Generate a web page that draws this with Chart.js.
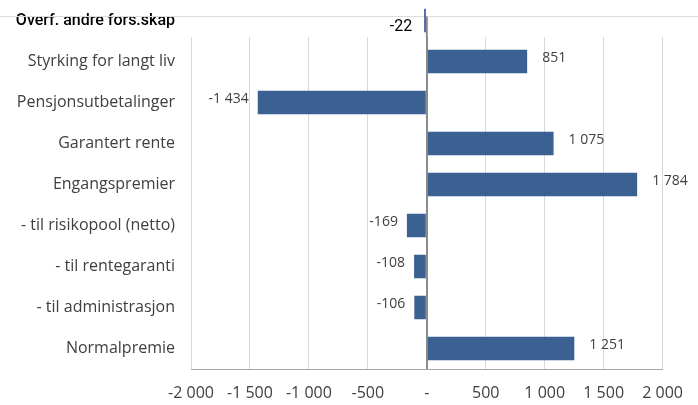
<!DOCTYPE html>
<html>
<head>
<meta charset="utf-8">
<script src="https://cdn.jsdelivr.net/npm/chart.js@4/dist/chart.umd.min.js"></script>
<style>
  html, body { margin: 0; padding: 0; background: #fff; }
  #wrap { position: relative; width: 698px; height: 405px; overflow: hidden; }
  canvas { display: block; }
</style>
</head>
<body>
<div id="wrap"><canvas id="c" width="698" height="405"></canvas></div>
<script>
// Poster (mill. kr), fra øverst til nederst
const categories = [
  'Overf. andre fors.skap',
  'Styrking for langt liv',
  'Pensjonsutbetalinger',
  'Garantert rente',
  'Engangspremier',
  '- til risikopool (netto)',
  '- til rentegaranti',
  '- til administrasjon',
  'Normalpremie'
];
const values = [-22, 851, -1434, 1075, 1784, -169, -108, -106, 1251];
const axisTicks = [-2000, -1500, -1000, -500, 0, 500, 1000, 1500, 2000];

const BAR = '#3a6192';
const BAR_TOP = '#2c4c9c';
const LABEL_FONT = '"Open Sans", Lato, sans-serif';
const TOP_FONT = 'Roboto, "Open Sans", sans-serif';

function fmt(v) {
  if (v === 0) return '-';
  const s = Math.abs(v).toString().replace(/\B(?=(\d{3})+(?!\d))/g, ' ');
  return (v < 0 ? '-' : '') + s;
}

// Hvitt felt over øverste rad, skillelinje og nullakse gjennom feltet
const topBand = {
  id: 'topBand',
  beforeDatasetsDraw(chart) {
    const { ctx, chartArea: a, scales } = chart;
    const cat = (a.bottom - a.top) / categories.length;
    const bandBottom = a.top + cat * 0.9;
    const lineY = Math.round(a.top + cat * 0.4) + 0.5;
    const x0 = scales.x.getPixelForValue(0);
    ctx.save();
    ctx.fillStyle = '#ffffff';
    ctx.fillRect(a.left - 2, a.top, a.right - a.left + 4, bandBottom - a.top);
    ctx.strokeStyle = '#dcdcdc';
    ctx.lineWidth = 1;
    ctx.beginPath();
    ctx.moveTo(0, lineY);
    ctx.lineTo(chart.width, lineY);
    ctx.stroke();
    ctx.strokeStyle = '#8c8c8c';
    ctx.lineWidth = 2;
    ctx.beginPath();
    ctx.moveTo(x0, lineY);
    ctx.lineTo(x0, bandBottom + 1);
    ctx.stroke();
    ctx.restore();
  }
};

// Verdietiketter utenfor enden av hver stolpe
const valueLabels = {
  id: 'valueLabels',
  afterDatasetsDraw(chart) {
    const { ctx } = chart;
    const meta = chart.getDatasetMeta(0);
    ctx.save();
    ctx.textBaseline = 'middle';
    meta.data.forEach((bar, i) => {
      const v = values[i];
      const top = i === 0;
      ctx.font = top ? '16px ' + TOP_FONT : '14px ' + LABEL_FONT;
      ctx.fillStyle = top ? '#000000' : '#404040';
      const y = top ? bar.y + 6 : bar.y - 3;
      if (v >= 0) {
        ctx.textAlign = 'left';
        ctx.fillText(fmt(v), bar.x + 15, y);
      } else {
        ctx.textAlign = 'right';
        ctx.fillText(fmt(v), bar.x - (top ? 12 : 9), y);
      }
    });
    ctx.restore();
  }
};

new Chart(document.getElementById('c'), {
  type: 'bar',
  data: {
    labels: categories,
    datasets: [{
      data: values,
      backgroundColor: values.map((v, i) => i === 0 ? BAR_TOP : BAR),
      borderWidth: 0,
      categoryPercentage: 1,
      barPercentage: 0.57
    }]
  },
  options: {
    indexAxis: 'y',
    responsive: false,
    animation: false,
    layout: { padding: { top: 0, right: 35, bottom: 0, left: 0 } },
    plugins: { legend: { display: false }, tooltip: { enabled: false } },
    scales: {
      x: {
        min: -2000,
        max: 2000,
        afterBuildTicks(scale) { scale.ticks = axisTicks.map(v => ({ value: v })); },
        afterFit(scale) { scale.height = 36; },
        grid: {
          drawTicks: false,
          color: ctx => ctx.tick && ctx.tick.value === 0 ? '#8c8c8c' : '#d9d9d9',
          lineWidth: ctx => ctx.tick && ctx.tick.value === 0 ? 2 : 1
        },
        border: { display: true, color: '#a6a6a6', width: 1 },
        ticks: {
          padding: 15,
          color: '#404040',
          font: { family: LABEL_FONT, size: 16 },
          maxRotation: 0,
          callback: v => fmt(v)
        }
      },
      y: {
        afterFit(scale) {
          scale.width = 191;
          scale.paddingTop = 0;
          scale.paddingBottom = 0;
        },
        grid: { display: false, drawTicks: false },
        border: { display: false },
        ticks: {
          padding: 16,
          color: ctx => ctx.index === 0 ? '#000000' : '#404040',
          font: ctx => ctx.index === 0
            ? { family: TOP_FONT, size: 16, weight: '500' }
            : { family: LABEL_FONT, size: 16 }
        }
      }
    }
  },
  plugins: [topBand, valueLabels]
});
</script>
</body>
</html>
